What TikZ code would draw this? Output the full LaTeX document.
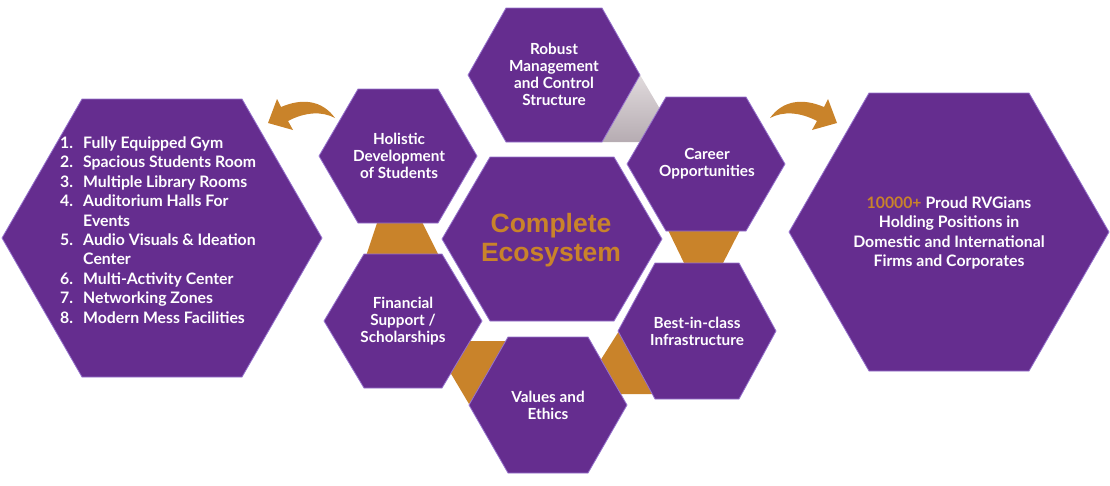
\documentclass[tikz,border=0pt]{standalone}
\usepackage{fontspec}
\setmainfont{Lato}
\newfontfamily\arialf{Liberation Sans}
\definecolor{hexpurple}{RGB}{101,45,143}
\definecolor{hexedge}{RGB}{150,115,205}
\definecolor{orangec}{RGB}{201,131,42}
\definecolor{graytop}{RGB}{224,218,220}
\definecolor{graybot}{RGB}{182,172,178}
\newcommand{\myhex}[5]{\filldraw[hexstyle] ({#1-#3},{#2}) -- ({#1-#3+#5},{#2-#4}) -- ({#1+#3-#5},{#2-#4}) -- ({#1+#3},{#2}) -- ({#1+#3-#5},{#2+#4}) -- ({#1-#3+#5},{#2+#4}) -- cycle;}
\begin{document}
\begin{tikzpicture}[x=1pt,y=-1pt,
  hexstyle/.style={fill=hexpurple, draw=hexedge, line width=0.8pt, line join=miter},
  linkshape/.style={fill=orangec},
  hextext/.style={text=white, font=\bfseries\fontsize{15.3}{17}\selectfont, align=center, inner sep=0pt},
  bigtext/.style={text=white, font=\bfseries\fontsize{15.8}{19.4}\selectfont, inner sep=0pt},
  coretext/.style={text=orangec, font=\arialf\bfseries\fontsize{26.5}{28.5}\selectfont, align=center, inner sep=0pt}]
\useasboundingbox (0,0) rectangle (1110,485);
% connector pieces (behind)
\shade[top color=graytop, bottom color=graybot] (640,75) -- (660,109) -- (655,142) -- (602,142) -- cycle;
\fill[linkshape] (378,220) -- (421,220) -- (439,256) -- (366,256) -- cycle;
\fill[linkshape] (668,230) -- (740,230) -- (722,265) -- (685,265) -- cycle;
\fill[linkshape] (468,341) -- (512,341) -- (469,404) -- (450,372) -- cycle;
\fill[linkshape] (619,331) -- (600,361) -- (621,394) -- (662,394) -- (650,331) -- cycle;
% hexagons
\myhex{162}{238}{160}{139}{80}
\myhex{949}{232}{160}{139}{80}
\myhex{552}{239}{110}{82}{48}
\myhex{554}{75}{86}{67}{38}
\myhex{398}{156}{79}{67}{39}
\myhex{706}{164}{79}{67}{39}
\myhex{403}{321}{79}{67}{40}
\myhex{548}{405}{79}{68}{39}
\myhex{697}{331}{79}{68}{37}
% curved arrows
\fill[orangec] (335,118) .. controls (322,100) and (302,98) .. (281,107) -- (277,99) -- (268,123) -- (293,130) -- (288,121) .. controls (305,112) and (322,111) .. (335,118) -- cycle;
\begin{scope}[xshift=1105pt, xscale=-1]
\fill[orangec] (335,118) .. controls (322,100) and (302,98) .. (281,107) -- (277,99) -- (268,123) -- (293,130) -- (288,121) .. controls (305,112) and (322,111) .. (335,118) -- cycle;
\end{scope}
% texts
\node[bigtext, align=left, anchor=west] (facilities) at (60,230) {%
\makebox[23pt][l]{1.}Fully Equipped Gym\\
\makebox[23pt][l]{2.}Spacious Students Room\\
\makebox[23pt][l]{3.}Multiple Library Rooms\\
\makebox[23pt][l]{4.}Auditorium Halls For\\
\makebox[23pt][l]{}Events\\
\makebox[23pt][l]{5.}Audio Visuals \& Ideation\\
\makebox[23pt][l]{}Center\\
\makebox[23pt][l]{6.}Multi-Activity Center\\
\makebox[23pt][l]{7.}Networking Zones\\
\makebox[23pt][l]{8.}Modern Mess Facilities};
\node[bigtext, align=center] (alumni) at (949,233) {{\color{orangec}10000+} Proud RVGians\\Holding Positions in\\Domestic and International\\Firms and Corporates};
\node[coretext] (core) at (551,240) {Complete\\Ecosystem};
\node[hextext] (robust) at (554,74) {Robust\\Management\\and Control\\Structure};
\node[hextext] (holistic) at (399,156) {Holistic\\Development\\of Students};
\node[hextext] (career) at (707,164) {Career\\Opportunities};
\node[hextext] (financial) at (403,321) {Financial\\Support /\\Scholarships};
\node[hextext] (values) at (548,405) {Values and\\Ethics};
\node[hextext] (infra) at (697,331) {Best-in-class\\Infrastructure};
\end{tikzpicture}
\end{document}
